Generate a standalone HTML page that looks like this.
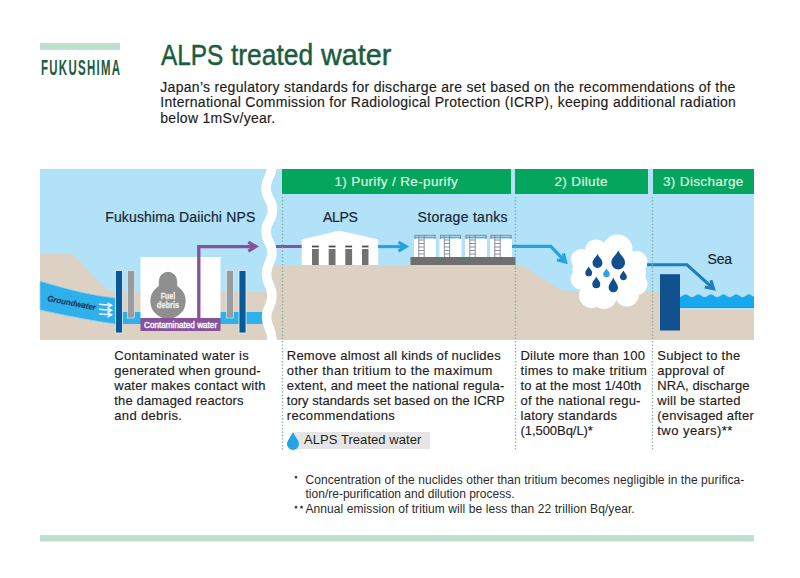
<!DOCTYPE html>
<html><head><meta charset="utf-8">
<style>
html,body{margin:0;padding:0;background:#fff;}
body{width:800px;height:578px;position:relative;overflow:hidden;font-family:"Liberation Sans",sans-serif;color:#1f1f1f;}
.a{position:absolute;white-space:nowrap;}
svg{position:absolute;left:0;top:0;}
.ttl{top:41.2px;font-size:29px;line-height:29px;color:#1b5c3e;-webkit-text-stroke:0.45px #1b5c3e;transform-origin:0 0;}
.hd{color:#dcf6e0;font-size:13.5px;line-height:15px;letter-spacing:0.35px;-webkit-text-stroke:0.2px #dcf6e0;}
.lb{color:#1a2533;font-size:14px;line-height:15px;-webkit-text-stroke:0.2px #1a2533;}
.bd{left:160.3px;font-size:14px;line-height:15.8px;color:#1c1c1c;-webkit-text-stroke:0.15px #1c1c1c;}
.ds{font-size:13px;line-height:15px;color:#1c1c1c;letter-spacing:0.22px;-webkit-text-stroke:0.15px #1c1c1c;}
.fn{font-size:12px;line-height:14.75px;color:#2a2a2a;}
</style></head><body>
<div class="a" style="left:40px;top:43px;width:80px;height:7px;background:#bde0cf"></div>
<div class="a m" id="fk" style="left:40.5px;top:56.5px;font-size:22px;line-height:22px;font-weight:bold;color:#1c5c40;letter-spacing:2.5px;transform:scaleX(0.52);transform-origin:0 0;">FUKUSHIMA</div>
<div class="a ttl" style="left:160.6px;transform:scaleX(0.84);">ALPS</div>
<div class="a ttl" style="left:230.5px;transform:scaleX(0.91);">treated</div>
<div class="a ttl" style="left:320.8px;transform:scaleX(0.99);">water</div>
<div class="a bd" style="top:79.5px;letter-spacing:0.294px;">Japan’s regulatory standards for discharge are set based on the recommendations of the</div>
<div class="a bd" style="top:95.3px;letter-spacing:0.289px;">International Commission for Radiological Protection (ICRP), keeping additional radiation</div>
<div class="a bd" style="top:111.1px;letter-spacing:0.29px;">below 1mSv/year.</div>

<svg width="800" height="578" viewBox="0 0 800 578">
  <!-- sky -->
  <rect x="40" y="169" width="714" height="171" fill="#b2e2f7"/>
  <!-- ground left -->
  <path d="M40 254 L72.5 254 L102.5 285.5 Q107.5 291.6 116 291.6 L275 291.6 L275 340 L40 340 Z" fill="#ddd1c3"/>
  <!-- ground middle/right -->
  <path d="M265 265 L521 265 L553 285.3 Q559.5 291 570 291 L680 291 L680 309.5 L754 309.5 L754 340 L265 340 Z" fill="#ddd1c3"/>
  <!-- sky cut between pillars -->
  <!-- groundwater band left -->
  <path d="M40 281 Q85 295 116 298 L116 324 Q85 320 40 310 Z" fill="#2eb0ea" stroke="#8fd3f3" stroke-width="0.8"/>
  <rect x="114" y="312" width="156" height="12" fill="#2eb0ea"/>
  <!-- groundwater arrows -->
  <g stroke="#eef8fd" stroke-width="1.5" fill="none">
    <path d="M99 304.3 L110.5 305.3 M99 309.3 L110.5 310.2 M99 314 L110.5 314.8"/>
    <path d="M107.5 302.8 L111.5 305.3 L107.5 307.6 M107.5 307.8 L111.5 310.2 L107.5 312.5 M107.5 312.5 L111.5 314.8 L107.5 317"/>
  </g>
  <!-- pillars -->
  <rect x="115.5" y="270.5" width="7" height="62.5" fill="#0a5896" stroke="#e3f2fb" stroke-width="0.8"/>
  <rect x="127.6" y="270.5" width="6.8" height="47.5" fill="#9b9b9b" stroke="#e3f2fb" stroke-width="0.6"/>
  <rect x="226.5" y="270.5" width="6.8" height="47.5" fill="#9b9b9b" stroke="#e3f2fb" stroke-width="0.6"/>
  <rect x="239" y="270.5" width="7" height="62.5" fill="#0a5896" stroke="#e3f2fb" stroke-width="0.8"/>
  <!-- reactor building -->
  <rect x="140.5" y="257" width="80" height="61" fill="#ffffff"/>
  <path d="M158.8 281 A9.2 9.2 0 0 1 177.2 281 L177.2 286 A17.7 17.7 0 1 1 158.8 286 Z" fill="#8f8f8f"/>
  <rect x="140.5" y="318" width="80" height="13" fill="#86529a"/>
  <!-- purple pipe -->
  <path d="M198.8 318 L198.8 246.6 L255 246.6" stroke="#86529a" stroke-width="3.3" fill="none"/>
  <path d="M-9.9 -5.9 L0 0 L-9.9 5.9 L-11.5 3.2 L-6.2 0 L-11.5 -3.2 Z" fill="#86529a" transform="translate(259 246.6)"/>
  <path d="M275 246.5 L302 246.5" stroke="#86529a" stroke-width="3" fill="none"/>
  <!-- wavy white line -->
  <path d="M272 166 C272 177 266 177 266 188 C266 199 272.5 199 272.5 210 C272.5 221 266 221 266 231 C266 242 272 242 272 252 C272 263 266.5 263 266.5 274 C266.5 285 272 285 272 296 C272 307 266.5 307 266.5 317 C266.5 328 272 328 272 340" stroke="#ffffff" stroke-width="9.5" fill="none"/>
  <rect x="255" y="160" width="30" height="9" fill="#fff"/>
  <rect x="255" y="340" width="30" height="6" fill="#fff"/>
  <!-- headers -->
  <rect x="282" y="169" width="229" height="25" fill="#04a65d"/>
  <rect x="515" y="169" width="133" height="25" fill="#04a65d"/>
  <rect x="653" y="169" width="101" height="25" fill="#04a65d"/>
  <!-- ALPS building -->
  <path d="M301.7 239.6 L336.6 231.2 L342.2 231.2 L378.2 239.6 L378.2 265 L301.7 265 Z" fill="#fff"/>
  <g fill="#4b4b4b"><rect x="312" y="245.6" width="6.8" height="1.8"/><rect x="328.7" y="245.6" width="6.8" height="1.8"/><rect x="345.3" y="245.6" width="6.8" height="1.8"/><rect x="362" y="245.6" width="6.5" height="1.8"/></g>
  <g fill="#727272"><rect x="312" y="249" width="6.8" height="16"/><rect x="328.7" y="249" width="6.8" height="16"/><rect x="345.3" y="249" width="6.8" height="16"/><rect x="362" y="249" width="6.5" height="16"/></g>
  <!-- blue arrow ALPS->tanks -->
  <path d="M378 246.6 L405 246.6" stroke="#26a2e0" stroke-width="3.1" fill="none"/>
  <path d="M-9.9 -5.9 L0 0 L-9.9 5.9 L-11.5 3.2 L-6.2 0 L-11.5 -3.2 Z" fill="#26a2e0" transform="translate(409.2 246.6)"/>
  <!-- tanks -->
  <rect x="410.5" y="257" width="105" height="8" fill="#6f6f6f"/>
  <g>
    <rect x="414" y="239" width="22" height="18" fill="#fff"/>
    <g stroke="#7b8690" stroke-width="0.9" fill="none">
      <path d="M414.5 235.3 L435.5 235.3 M414.5 237.3 L435.5 237.3 M415 235 L415 239 M435 235 L435 239"/>
      <path d="M418.8 235 L418.8 257 M424.2 235 L424.2 257 M418.8 240 L424.2 240 M418.8 243.5 L424.2 243.5 M418.8 247 L424.2 247 M418.8 250.5 L424.2 250.5 M418.8 254 L424.2 254"/>
    </g>
  </g>
  <g transform="translate(25.5 0)">
    <rect x="414" y="239" width="22" height="18" fill="#fff"/>
    <g stroke="#7b8690" stroke-width="0.9" fill="none">
      <path d="M414.5 235.3 L435.5 235.3 M414.5 237.3 L435.5 237.3 M415 235 L415 239 M435 235 L435 239"/>
      <path d="M418.8 235 L418.8 257 M424.2 235 L424.2 257 M418.8 240 L424.2 240 M418.8 243.5 L424.2 243.5 M418.8 247 L424.2 247 M418.8 250.5 L424.2 250.5 M418.8 254 L424.2 254"/>
    </g>
  </g>
  <g transform="translate(51 0)">
    <rect x="414" y="239" width="22" height="18" fill="#fff"/>
    <g stroke="#7b8690" stroke-width="0.9" fill="none">
      <path d="M414.5 235.3 L435.5 235.3 M414.5 237.3 L435.5 237.3 M415 235 L415 239 M435 235 L435 239"/>
      <path d="M418.8 235 L418.8 257 M424.2 235 L424.2 257 M418.8 240 L424.2 240 M418.8 243.5 L424.2 243.5 M418.8 247 L424.2 247 M418.8 250.5 L424.2 250.5 M418.8 254 L424.2 254"/>
    </g>
  </g>
  <g transform="translate(76 0)">
    <rect x="414" y="239" width="22" height="18" fill="#fff"/>
    <g stroke="#7b8690" stroke-width="0.9" fill="none">
      <path d="M414.5 235.3 L435.5 235.3 M414.5 237.3 L435.5 237.3 M415 235 L415 239 M435 235 L435 239"/>
      <path d="M418.8 235 L418.8 257 M424.2 235 L424.2 257 M418.8 240 L424.2 240 M418.8 243.5 L424.2 243.5 M418.8 247 L424.2 247 M418.8 250.5 L424.2 250.5 M418.8 254 L424.2 254"/>
    </g>
  </g>
  <!-- arrow tanks->cloud -->
  <path d="M512 246.4 L550.8 246.4 L563.4 259.6" stroke="#26a2e0" stroke-width="3.1" fill="none" stroke-linejoin="miter"/>
  <path d="M-9.9 -5.9 L0 0 L-9.9 5.9 L-11.5 3.2 L-6.2 0 L-11.5 -3.2 Z" fill="#26a2e0" transform="translate(567.8 264.2) rotate(45)"/>
  <!-- cloud -->
  <g fill="#fff">
    <circle cx="617.5" cy="249.5" r="15"/>
    <circle cx="596" cy="250.5" r="11"/>
    <circle cx="581.5" cy="259.5" r="10.5"/>
    <circle cx="581" cy="279" r="10.5"/>
    <circle cx="591.5" cy="295.5" r="12.5"/>
    <circle cx="604" cy="296" r="13"/>
    <circle cx="627" cy="294.5" r="12"/>
    <circle cx="636.5" cy="284" r="11"/>
    <circle cx="636.5" cy="262" r="11"/>
    <circle cx="609" cy="272" r="26"/>
    <circle cx="584" cy="269.5" r="11.5"/>
    <circle cx="634" cy="273" r="12"/>
  </g>
  <!-- drops -->
  <path d="M597.50 254.10 C599.23 257.99 602.45 259.34 602.45 263.05 A4.95 4.95 0 0 1 592.55 263.05 C592.55 259.34 595.77 257.99 597.50 254.10 Z" fill="#124f8f"/>
  <path d="M618.20 250.60 C620.60 255.92 625.05 257.61 625.05 262.75 A6.85 6.85 0 0 1 611.35 262.75 C611.35 257.61 615.80 255.92 618.20 250.60 Z" fill="#124f8f"/>
  <path d="M588.70 266.60 C589.89 269.32 592.10 270.35 592.10 272.90 A3.40 3.40 0 0 1 585.30 272.90 C585.30 270.35 587.51 269.32 588.70 266.60 Z" fill="#124f8f"/>
  <path d="M606.50 268.40 C607.64 270.89 609.75 271.61 609.75 274.05 A3.25 3.25 0 0 1 603.25 274.05 C603.25 271.61 605.36 270.89 606.50 268.40 Z" fill="#2aa6e3"/>
  <path d="M623.40 270.40 C624.61 273.14 626.85 274.16 626.85 276.75 A3.45 3.45 0 0 1 619.95 276.75 C619.95 274.16 622.19 273.14 623.40 270.40 Z" fill="#124f8f"/>
  <path d="M596.30 276.60 C597.70 279.88 600.30 281.30 600.30 284.30 A4.00 4.00 0 0 1 592.30 284.30 C592.30 281.30 594.90 279.88 596.30 276.60 Z" fill="#124f8f"/>
  <path d="M613.30 277.60 C614.93 281.72 617.95 284.16 617.95 287.65 A4.65 4.65 0 0 1 608.65 287.65 C608.65 284.16 611.67 281.72 613.30 277.60 Z" fill="#124f8f"/>
  <!-- arrow cloud->sea -->
  <path d="M647 264.8 L687 264.8 L711.2 286.6" stroke="#1d7fbf" stroke-width="3.1" fill="none"/>
  <path d="M-9.9 -5.9 L0 0 L-9.9 5.9 L-11.5 3.2 L-6.2 0 L-11.5 -3.2 Z" fill="#1d7fbf" transform="translate(715.8 290.8) rotate(42)"/>
  <!-- wall -->
  <rect x="660" y="274.2" width="20" height="56.3" fill="#11518e"/>
  <!-- sea -->
  <path d="M680.0 297.46 L680.5 297.31 L681.0 297.08 L681.5 296.81 L682.0 296.49 L682.5 296.16 L683.0 295.83 L683.5 295.52 L684.0 295.25 L684.5 295.05 L685.0 294.91 L685.5 294.85 L686.0 294.88 L686.5 294.98 L687.0 295.16 L687.5 295.41 L688.0 295.70 L688.5 296.02 L689.0 296.36 L689.5 296.68 L690.0 296.98 L690.5 297.23 L691.0 297.41 L691.5 297.52 L692.0 297.55 L692.5 297.50 L693.0 297.36 L693.5 297.16 L694.0 296.89 L694.5 296.59 L695.0 296.26 L695.5 295.93 L696.0 295.61 L696.5 295.33 L697.0 295.10 L697.5 294.94 L698.0 294.86 L698.5 294.86 L699.0 294.94 L699.5 295.10 L700.0 295.33 L700.5 295.61 L701.0 295.93 L701.5 296.26 L702.0 296.59 L702.5 296.89 L703.0 297.16 L703.5 297.36 L704.0 297.50 L704.5 297.55 L705.0 297.52 L705.5 297.41 L706.0 297.23 L706.5 296.98 L707.0 296.68 L707.5 296.36 L708.0 296.02 L708.5 295.70 L709.0 295.41 L709.5 295.16 L710.0 294.98 L710.5 294.88 L711.0 294.85 L711.5 294.91 L712.0 295.05 L712.5 295.25 L713.0 295.52 L713.5 295.83 L714.0 296.16 L714.5 296.49 L715.0 296.81 L715.5 297.08 L716.0 297.31 L716.5 297.46 L717.0 297.54 L717.5 297.54 L718.0 297.45 L718.5 297.29 L719.0 297.06 L719.5 296.78 L720.0 296.46 L720.5 296.12 L721.0 295.80 L721.5 295.49 L722.0 295.23 L722.5 295.03 L723.0 294.90 L723.5 294.85 L724.0 294.88 L724.5 295.00 L725.0 295.19 L725.5 295.44 L726.0 295.73 L726.5 296.06 L727.0 296.39 L727.5 296.71 L728.0 297.01 L728.5 297.25 L729.0 297.42 L729.5 297.53 L730.0 297.55 L730.5 297.49 L731.0 297.34 L731.5 297.13 L732.0 296.87 L732.5 296.56 L733.0 296.23 L733.5 295.89 L734.0 295.58 L734.5 295.30 L735.0 295.08 L735.5 294.93 L736.0 294.86 L736.5 294.86 L737.0 294.96 L737.5 295.12 L738.0 295.35 L738.5 295.64 L739.0 295.96 L739.5 296.29 L740.0 296.62 L740.5 296.92 L741.0 297.18 L741.5 297.38 L742.0 297.50 L742.5 297.55 L743.0 297.51 L743.5 297.39 L744.0 297.20 L744.5 296.95 L745.0 296.65 L745.5 296.33 L746.0 295.99 L746.5 295.67 L747.0 295.38 L747.5 295.14 L748.0 294.97 L748.5 294.87 L749.0 294.85 L749.5 294.92 L750.0 295.06 L750.5 295.28 L751.0 295.55 L751.5 295.86 L752.0 296.19 L752.5 296.52 L753.0 296.84 L753.5 297.11 L754.0 297.33 L754 307.8 L680 307.8 Z" fill="#17a9ed"/>
  <path d="M680.0 297.46 L680.5 297.31 L681.0 297.08 L681.5 296.81 L682.0 296.49 L682.5 296.16 L683.0 295.83 L683.5 295.52 L684.0 295.25 L684.5 295.05 L685.0 294.91 L685.5 294.85 L686.0 294.88 L686.5 294.98 L687.0 295.16 L687.5 295.41 L688.0 295.70 L688.5 296.02 L689.0 296.36 L689.5 296.68 L690.0 296.98 L690.5 297.23 L691.0 297.41 L691.5 297.52 L692.0 297.55 L692.5 297.50 L693.0 297.36 L693.5 297.16 L694.0 296.89 L694.5 296.59 L695.0 296.26 L695.5 295.93 L696.0 295.61 L696.5 295.33 L697.0 295.10 L697.5 294.94 L698.0 294.86 L698.5 294.86 L699.0 294.94 L699.5 295.10 L700.0 295.33 L700.5 295.61 L701.0 295.93 L701.5 296.26 L702.0 296.59 L702.5 296.89 L703.0 297.16 L703.5 297.36 L704.0 297.50 L704.5 297.55 L705.0 297.52 L705.5 297.41 L706.0 297.23 L706.5 296.98 L707.0 296.68 L707.5 296.36 L708.0 296.02 L708.5 295.70 L709.0 295.41 L709.5 295.16 L710.0 294.98 L710.5 294.88 L711.0 294.85 L711.5 294.91 L712.0 295.05 L712.5 295.25 L713.0 295.52 L713.5 295.83 L714.0 296.16 L714.5 296.49 L715.0 296.81 L715.5 297.08 L716.0 297.31 L716.5 297.46 L717.0 297.54 L717.5 297.54 L718.0 297.45 L718.5 297.29 L719.0 297.06 L719.5 296.78 L720.0 296.46 L720.5 296.12 L721.0 295.80 L721.5 295.49 L722.0 295.23 L722.5 295.03 L723.0 294.90 L723.5 294.85 L724.0 294.88 L724.5 295.00 L725.0 295.19 L725.5 295.44 L726.0 295.73 L726.5 296.06 L727.0 296.39 L727.5 296.71 L728.0 297.01 L728.5 297.25 L729.0 297.42 L729.5 297.53 L730.0 297.55 L730.5 297.49 L731.0 297.34 L731.5 297.13 L732.0 296.87 L732.5 296.56 L733.0 296.23 L733.5 295.89 L734.0 295.58 L734.5 295.30 L735.0 295.08 L735.5 294.93 L736.0 294.86 L736.5 294.86 L737.0 294.96 L737.5 295.12 L738.0 295.35 L738.5 295.64 L739.0 295.96 L739.5 296.29 L740.0 296.62 L740.5 296.92 L741.0 297.18 L741.5 297.38 L742.0 297.50 L742.5 297.55 L743.0 297.51 L743.5 297.39 L744.0 297.20 L744.5 296.95 L745.0 296.65 L745.5 296.33 L746.0 295.99 L746.5 295.67 L747.0 295.38 L747.5 295.14 L748.0 294.97 L748.5 294.87 L749.0 294.85 L749.5 294.92 L750.0 295.06 L750.5 295.28 L751.0 295.55 L751.5 295.86 L752.0 296.19 L752.5 296.52 L753.0 296.84 L753.5 297.11 L754.0 297.33" stroke="#1b93d3" stroke-width="0.7" fill="none"/>
  <rect x="680" y="307.2" width="74" height="0.8" fill="#1b93d3"/>
  <rect x="680" y="308" width="74" height="1.6" fill="#c4e3ee"/>
  <!-- dotted lines -->
  <g stroke="#84aa9e" stroke-width="1.4" stroke-dasharray="1.3 2.05" fill="none">
    <path d="M282.5 197 L282.5 451"/>
    <path d="M515.5 197 L515.5 451"/>
    <path d="M652.5 197 L652.5 451"/>
  </g>
  <!-- ALPS treated water badge -->
  <rect x="295" y="432" width="135" height="17" fill="#e5e5e5"/>
  <path d="M293 432 C295.5 437 299 441 299 444 A6 6 0 0 1 287 444 C287 441 290.5 437 293 432 Z" fill="#25a4e3"/>
  <!-- asterisks -->
  <g fill="#222">
    <path d="M296 475.3 L296.6 476.5 L297.8 476.5 L296.9 477.4 L297.3 478.7 L296 478 L294.7 478.7 L295.1 477.4 L294.2 476.5 L295.4 476.5 Z"/>
    <path d="M296 505.3 L296.6 506.5 L297.8 506.5 L296.9 507.4 L297.3 508.7 L296 508 L294.7 508.7 L295.1 507.4 L294.2 506.5 L295.4 506.5 Z"/>
    <path d="M301.6 505.3 L302.2 506.5 L303.4 506.5 L302.5 507.4 L302.9 508.7 L301.6 508 L300.3 508.7 L300.7 507.4 L299.8 506.5 L301 506.5 Z"/>
  </g>
  <!-- bottom bar -->
  <rect x="40" y="535" width="714" height="6.5" fill="#bde0cf"/>
</svg>

<div class="a m hd" style="left:334.5px;top:173.5px;">1) Purify / Re-purify</div>
<div class="a m hd" style="left:554.5px;top:173.5px;">2) Dilute</div>
<div class="a m hd" style="left:663px;top:173.5px;">3) Discharge</div>
<div class="a m lb" style="left:105.2px;top:209.6px;letter-spacing:0.15px;">Fukushima Daiichi NPS</div>
<div class="a m lb" style="left:323px;top:209.6px;letter-spacing:-0.33px;">ALPS</div>
<div class="a m lb" style="left:417.6px;top:209.6px;letter-spacing:0.3px;">Storage tanks</div>
<div class="a m lb" style="left:707.5px;top:252.4px;letter-spacing:-0.15px;">Sea</div>
<div class="a m" style="left:46.5px;top:292.55px;font-size:8.5px;line-height:10px;font-weight:bold;font-style:italic;color:#132a52;transform:rotate(11deg) scaleX(0.93);transform-origin:0 7.95px;">Groundwater</div>
<div class="a m" style="left:153px;top:291.9px;font-size:8.7px;font-weight:bold;color:#ececec;-webkit-text-stroke:0.35px #ececec;line-height:9px;text-align:center;width:30px;transform:scaleX(0.8);transform-origin:15px 0;">Fuel</div>
<div class="a m" style="left:153px;top:300.9px;font-size:8.7px;font-weight:bold;color:#ececec;-webkit-text-stroke:0.35px #ececec;line-height:9px;text-align:center;width:30px;transform:scaleX(0.86);transform-origin:15px 0;">debris</div>
<div class="a m" style="left:143.5px;top:318.5px;font-size:9.5px;line-height:11px;color:#fff;-webkit-text-stroke:0.4px #fff;transform:scaleX(0.86);transform-origin:0 0;">Contaminated water</div>

<div class="a ds" style="left:114.3px;top:348.0px;letter-spacing:0.25px;">Contaminated water is</div>
<div class="a ds" style="left:114.3px;top:363.0px;letter-spacing:0.226px;">generated when ground-</div>
<div class="a ds" style="left:114.3px;top:378.0px;letter-spacing:0.228px;">water makes contact with</div>
<div class="a ds" style="left:114.3px;top:393.0px;letter-spacing:0.147px;">the damaged reactors</div>
<div class="a ds" style="left:114.3px;top:408.0px;letter-spacing:0.32px;">and debris.</div>
<div class="a ds" style="left:286.8px;top:348.0px;letter-spacing:0.215px;">Remove almost all kinds of nuclides</div>
<div class="a ds" style="left:286.8px;top:363.0px;letter-spacing:0.375px;">other than tritium to the maximum</div>
<div class="a ds" style="left:286.8px;top:378.0px;letter-spacing:0.161px;">extent, and meet the national regula-</div>
<div class="a ds" style="left:286.8px;top:393.0px;letter-spacing:0.031px;">tory standards set based on the ICRP</div>
<div class="a ds" style="left:286.8px;top:408.0px;letter-spacing:0.336px;">recommendations</div>
<div class="a m" style="left:304px;top:432.4px;font-size:13px;line-height:15px;letter-spacing:0.06px;color:#1f1f1f;">ALPS Treated water</div>
<div class="a ds" style="left:520.5px;top:348.0px;letter-spacing:0.195px;">Dilute more than 100</div>
<div class="a ds" style="left:520.5px;top:363.0px;letter-spacing:0.32px;">times to make tritium</div>
<div class="a ds" style="left:520.5px;top:378.0px;letter-spacing:0.11px;">to at the most 1/40th</div>
<div class="a ds" style="left:520.5px;top:393.0px;letter-spacing:0.215px;">of the national regu-</div>
<div class="a ds" style="left:520.5px;top:408.0px;letter-spacing:0.267px;">latory standards</div>
<div class="a ds" style="left:520.5px;top:423.0px;letter-spacing:-0.055px;">(1,500Bq/L)*</div>
<div class="a ds" style="left:657.3px;top:348.0px;letter-spacing:0.262px;">Subject to the</div>
<div class="a ds" style="left:657.3px;top:363.0px;letter-spacing:0.24px;">approval of</div>
<div class="a ds" style="left:657.3px;top:378.0px;letter-spacing:0.092px;">NRA, discharge</div>
<div class="a ds" style="left:657.3px;top:393.0px;letter-spacing:0.257px;">will be started</div>
<div class="a ds" style="left:657.3px;top:408.0px;letter-spacing:0.213px;">(envisaged after</div>
<div class="a ds" style="left:657.3px;top:423.0px;letter-spacing:0.455px;">two years)**</div>


<div class="a fn" style="left:305.5px;top:472.5px;letter-spacing:0.063px;">Concentration of the nuclides other than tritium becomes negligible in the purifica-</div>
<div class="a fn" style="left:305.5px;top:487.4px;letter-spacing:0.007px;">tion/re-purification and dilution process.</div>

<div class="a fn" style="left:305.5px;top:502.4px;letter-spacing:0.078px;">Annual emission of tritium will be less than 22 trillion Bq/year.</div>
</body></html>
